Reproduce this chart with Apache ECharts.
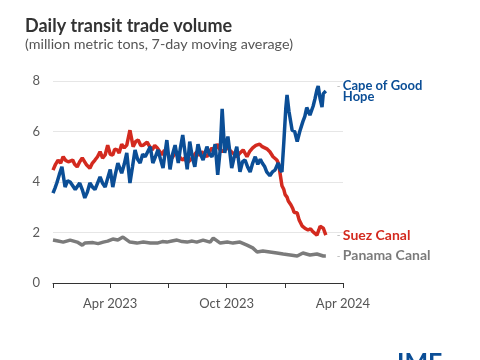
<!DOCTYPE html>
<html><head><meta charset="utf-8">
<script src="https://cdn.jsdelivr.net/npm/echarts@6/dist/echarts.min.js"></script>
<style>html,body{margin:0;padding:0;background:#fff}#c{width:480px;height:360px}</style>
</head><body><div id="c"></div>
<script>
// ---- data ----
const capeDates = ['2023-01-01','2023-01-04','2023-01-07','2023-01-11','2023-01-15','2023-01-20','2023-01-24','2023-01-28','2023-02-01','2023-02-05','2023-02-12','2023-02-16','2023-02-20','2023-02-24','2023-02-28','2023-03-04','2023-03-08','2023-03-16','2023-03-20','2023-03-24','2023-04-01','2023-04-05','2023-04-09','2023-04-13','2023-04-19','2023-04-23','2023-04-27','2023-05-02','2023-05-06','2023-05-10','2023-05-14','2023-05-18','2023-05-22','2023-05-26','2023-06-03','2023-06-07','2023-06-11','2023-06-15','2023-06-19','2023-06-23','2023-06-29','2023-07-04','2023-07-08','2023-07-12','2023-07-17','2023-07-20','2023-07-24','2023-07-31','2023-08-04','2023-08-08','2023-08-12','2023-08-17','2023-08-21','2023-08-25','2023-08-31','2023-09-04','2023-09-08','2023-09-13','2023-09-17','2023-09-21','2023-09-24','2023-09-28','2023-10-03','2023-10-06','2023-10-09','2023-10-13','2023-10-17','2023-10-22','2023-10-26','2023-10-30','2023-11-03','2023-11-07','2023-11-11','2023-11-15','2023-11-19','2023-11-23','2023-11-26','2023-11-30','2023-12-03','2023-12-08','2023-12-12','2023-12-16','2023-12-21','2023-12-24','2023-12-27','2023-12-30','2024-01-02','2024-01-04','2024-01-07','2024-01-12','2024-01-16','2024-01-20','2024-01-24','2024-01-29','2024-02-01','2024-02-04','2024-02-09','2024-02-14','2024-02-17','2024-02-20','2024-02-22','2024-02-25','2024-02-28','2024-03-01','2024-03-05'];
const capeValues = [3.56,3.75,3.96,4.3,4.6,3.8,4.05,4.0,3.85,3.7,3.96,3.7,3.37,3.6,3.96,3.8,3.7,4.2,3.95,3.8,4.5,3.8,4.3,4.75,4.35,4.7,5.15,3.96,4.6,5.27,4.9,4.75,5.1,5.0,5.4,4.75,5.0,5.27,4.9,4.55,5.66,4.5,5.1,5.46,4.75,5.3,5.86,4.5,5.6,5.0,4.6,5.5,5.1,4.87,5.4,5.1,5.0,5.5,4.28,5.3,6.9,5.15,5.8,5.2,4.55,5.0,5.4,4.4,4.8,4.87,4.6,4.4,4.75,5.0,4.7,4.9,4.75,4.6,4.4,4.25,4.4,4.47,4.75,4.5,4.4,5.6,6.9,7.45,6.8,6.05,6.0,5.6,6.0,6.4,6.6,6.95,6.65,7.0,7.3,7.65,7.8,7.3,6.97,7.5,7.6];

const suezDates = ['2023-01-01','2023-01-05','2023-01-09','2023-01-13','2023-01-17','2023-01-21','2023-01-25','2023-02-01','2023-02-04','2023-02-08','2023-02-12','2023-02-16','2023-02-23','2023-02-28','2023-03-04','2023-03-08','2023-03-12','2023-03-16','2023-03-20','2023-03-24','2023-03-28','2023-04-01','2023-04-05','2023-04-08','2023-04-12','2023-04-15','2023-04-19','2023-04-23','2023-04-27','2023-05-02','2023-05-07','2023-05-11','2023-05-15','2023-05-19','2023-05-23','2023-05-29','2023-06-02','2023-06-06','2023-06-10','2023-06-14','2023-06-18','2023-06-21','2023-06-25','2023-06-29','2023-07-03','2023-07-07','2023-07-11','2023-07-15','2023-07-19','2023-07-23','2023-07-27','2023-07-31','2023-08-04','2023-08-08','2023-08-12','2023-08-15','2023-08-19','2023-08-23','2023-08-27','2023-08-31','2023-09-04','2023-09-08','2023-09-12','2023-09-16','2023-09-20','2023-09-24','2023-09-28','2023-10-02','2023-10-06','2023-10-09','2023-10-13','2023-10-17','2023-10-22','2023-10-27','2023-11-02','2023-11-06','2023-11-11','2023-11-16','2023-11-22','2023-11-26','2023-11-30','2023-12-04','2023-12-08','2023-12-13','2023-12-19','2023-12-22','2023-12-24','2023-12-27','2023-12-30','2024-01-01','2024-01-04','2024-01-06','2024-01-10','2024-01-13','2024-01-15','2024-01-18','2024-01-20','2024-01-23','2024-01-28','2024-02-01','2024-02-06','2024-02-10','2024-02-14','2024-02-17','2024-02-20','2024-02-23','2024-02-25','2024-03-01','2024-03-05'];
const suezValues = [4.47,4.7,4.87,4.75,5.0,4.85,4.8,4.87,4.7,4.6,4.8,4.95,4.67,4.55,4.75,4.87,5.0,5.2,4.95,5.07,5.46,5.1,5.07,5.3,5.27,5.15,5.5,5.35,5.46,6.05,5.4,5.6,5.66,5.45,5.46,5.58,5.4,5.27,5.45,5.35,5.2,5.07,5.25,5.2,5.0,4.95,5.1,5.2,5.0,4.87,4.95,4.75,4.85,4.95,5.1,5.2,5.05,5.2,5.1,5.0,5.2,5.35,5.2,5.5,5.3,5.2,5.3,5.4,5.25,5.2,5.1,5.0,5.15,5.27,5.0,5.2,5.35,5.45,5.5,5.4,5.35,5.3,5.2,5.0,4.87,4.7,4.35,3.85,3.7,3.5,3.4,3.25,3.1,2.95,2.8,2.85,2.77,2.5,2.25,2.17,2.1,2.15,2.02,1.95,1.9,2.1,2.25,2.17,1.9];

const panamaDates = ['2023-01-01','2023-01-09','2023-01-17','2023-01-28','2023-02-08','2023-02-16','2023-02-20','2023-03-05','2023-03-13','2023-03-21','2023-03-28','2023-04-05','2023-04-13','2023-04-21','2023-05-02','2023-05-13','2023-05-23','2023-06-03','2023-06-14','2023-06-22','2023-06-29','2023-07-07','2023-07-15','2023-07-23','2023-07-31','2023-08-08','2023-08-15','2023-08-25','2023-09-05','2023-09-10','2023-09-21','2023-10-02','2023-10-11','2023-10-22','2023-11-02','2023-11-11','2023-11-18','2023-11-27','2023-12-08','2023-12-19','2023-12-29','2024-01-09','2024-01-20','2024-01-29','2024-02-09','2024-02-20','2024-03-01','2024-03-05'];
const panamaValues = [1.7,1.66,1.62,1.7,1.62,1.5,1.58,1.6,1.56,1.62,1.66,1.74,1.7,1.82,1.62,1.58,1.62,1.58,1.58,1.64,1.62,1.66,1.7,1.64,1.62,1.66,1.62,1.7,1.62,1.78,1.58,1.62,1.58,1.62,1.5,1.39,1.23,1.27,1.23,1.19,1.15,1.11,1.07,1.19,1.11,1.15,1.07,1.07];

const xMin = '2023-01-01', xMax = '2024-04-01';
const tickDates = ['2023-01-01','2023-04-01','2023-07-01','2023-10-01','2024-01-01','2024-04-01'];
const labelDates = ['2023-04-01','2023-10-01','2024-04-01'];
const yTicks = [0, 2, 4, 6, 8];
const monthNames = ['Jan','Feb','Mar','Apr','May','Jun','Jul','Aug','Sep','Oct','Nov','Dec'];

// ---- chart ----
const FONT = 'Lato, "Open Sans", sans-serif';
const BLUE = '#0b4e96', RED = '#d32a1f', GRAY = '#7b7b7b';
const toTs = s => { const p = s.split('-').map(Number); return new Date(p[0], p[1]-1, p[2]).getTime(); };
const pairs = (ds, vs) => ds.map((d, i) => [toTs(d), vs[i]]);

function endLabel(lines, color, size) {
  const parts = lines.map((l, i) => (i === 0 ? '{d|-}' : '{s| }') + '{n|' + l + '}');
  return {
    show: true, distance: 11,
    formatter: parts.join('\n'),
    rich: {
      d: {color: '#b0b0b0', fontSize: 10, width: 6, fontFamily: FONT},
      s: {width: 6, fontSize: 10},
      n: {color: color, fontSize: size, fontWeight: 'bold', lineHeight: 11, fontFamily: FONT}
    }
  };
}

const chart = echarts.init(document.getElementById('c'));
chart.setOption({
  animation: false,
  textStyle: {fontFamily: FONT},
  title: [
    {text: 'Daily transit trade volume', left: 25, top: 17, padding: 0,
     textStyle: {fontSize: 18, fontWeight: 'bold', color: '#333', fontFamily: FONT}},
    {text: '(million metric tons, 7-day moving average)', left: 25, top: 37, padding: 0,
     textStyle: {fontSize: 14.3, fontWeight: 'normal', color: '#555', fontFamily: FONT}}
  ],
  grid: {left: 53, right: 137, top: 81, bottom: 77},
  xAxis: {
    type: 'value', min: toTs(xMin), max: toTs(xMax),
    axisLine: {lineStyle: {color: '#333', width: 1}},
    axisTick: {show: true, length: 5, lineStyle: {color: '#333'}, customValues: tickDates.map(toTs)},
    axisLabel: {customValues: labelDates.map(toTs), color: '#555', fontSize: 13, margin: 14,
      formatter: v => { const d = new Date(v); return monthNames[d.getMonth()] + ' ' + d.getFullYear(); }},
    splitLine: {show: false}
  },
  yAxis: {
    type: 'value', min: yTicks[0], max: yTicks[yTicks.length-1], interval: yTicks[1]-yTicks[0],
    axisLine: {show: false}, axisTick: {show: false},
    axisLabel: {color: '#5a5a5a', fontSize: 13, margin: 13},
    splitLine: {lineStyle: {color: '#e6e6e6'}}
  },
  series: [
    {type: 'line', name: 'Panama Canal', data: pairs(panamaDates, panamaValues), symbol: 'none',
     lineStyle: {width: 3.5, color: GRAY}, itemStyle: {color: GRAY}, z: 2,
     endLabel: endLabel(['Panama Canal'], GRAY, 14)},
    {type: 'line', name: 'Suez Canal', data: pairs(suezDates, suezValues), symbol: 'none',
     lineStyle: {width: 3.5, color: RED}, itemStyle: {color: RED}, z: 3,
     endLabel: endLabel(['Suez Canal'], RED, 14)},
    {type: 'line', name: 'Cape of Good Hope', data: pairs(capeDates, capeValues), symbol: 'none',
     lineStyle: {width: 3.5, color: BLUE}, itemStyle: {color: BLUE}, z: 4,
     endLabel: endLabel(['Cape of Good', 'Hope'], BLUE, 13)}
  ],
  graphic: [
    {type: 'text', left: 397, top: 350, style: {text: 'IMF', fill: BLUE, font: 'bold 25px ' + FONT}}
  ]
});
</script>
</body></html>
